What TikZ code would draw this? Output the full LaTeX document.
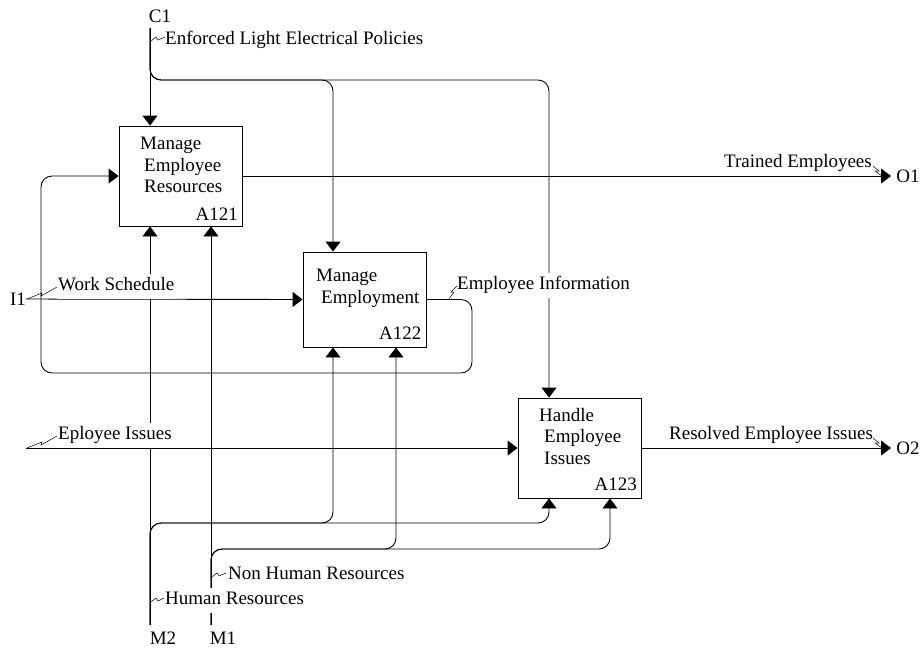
\documentclass[tikz,border=0pt]{standalone}
\usepackage{fontspec}
\setmainfont{Liberation Serif}
\usetikzlibrary{arrows.meta}
\begin{document}
\begin{tikzpicture}[x=1pt,y=-1pt,
  flow/.style={line width=0.9pt,-{Triangle[width=15pt,length=10pt]}},
  pipe/.style={line width=0.9pt,rounded corners=11pt},
  activity/.style={draw,line width=0.9pt,rectangle,minimum width=123pt,inner sep=0pt},
  boxtitle/.style={anchor=north west,align=left,inner sep=0pt,font=\fontsize{19}{21.5}\selectfont},
  boxnum/.style={anchor=base east,inner sep=0pt,font=\fontsize{19}{22}\selectfont},
  endtag/.style={inner sep=0pt,font=\fontsize{19}{22}\selectfont},
  arrowtext/.style={anchor=west,fill=white,inner xsep=1pt,inner ysep=4pt,text height=13pt,text depth=4pt,font=\fontsize{19}{22}\selectfont},
  squig/.style={line width=0.5pt}]
\useasboundingbox (0,0) rectangle (923,649);

% activity boxes
\node[activity,minimum height=100pt] (A121) at (180.5,176) {};
\node[activity,minimum height=95pt]  (A122) at (364.5,299.5) {};
\node[activity,minimum height=100pt] (A123) at (579.5,448) {};

\node[boxtitle] (t121) at (140,137) {Manage\\\hspace*{4pt}Employee\\\hspace*{4pt}Resources};
\node[boxnum] (n121) at (238,220) {A121};
\node[boxtitle] (t122) at (316,269) {Manage\\\hspace*{5pt}Employment};
\node[boxnum] (n122) at (421.5,339) {A122};
\node[boxtitle] (t123) at (539,408) {Handle\\\hspace*{5pt}Employee\\\hspace*{5pt}Issues};
\node[boxnum] (n123) at (637,490) {A123};

% boundary tags
\node[endtag] (C1) at (160,16) {C1};
\node[endtag] (I1) at (18,299) {I1};
\node[endtag] (O1) at (908,176) {O1};
\node[endtag] (O2) at (908,448) {O2};
\node[endtag] (M2) at (163,638) {M2};
\node[endtag] (M1) at (223,638) {M1};

% free ends of the boundary arrows
\coordinate (c1) at (150,28);
\coordinate (i1) at (26,299);
\coordinate (i2) at (26,448);
\coordinate (o1) at (891,176);
\coordinate (o2) at (891,448);
\coordinate (m2) at (150,625);
\coordinate (m1) at (211,625);

% control
\draw[flow] (c1) -- (c1 |- A121.north);
\draw[flow,pipe] (c1) -- (150,80) -- (333,80) -- (333,80 |- A122.north);
\draw[flow,pipe] (c1) -- (150,80) -- (549,80) -- (549,80 |- A123.north);

% inputs
\draw[flow] (i1) -- (A122.west);
\draw[flow] (i2) -- (A123.west);

% outputs
\draw[flow] (A121.east) -- (o1);
\draw[flow] (A123.east) -- (o2);

% feedback of employee information
\draw[flow,pipe] (A122.east) -- (472,299.5) -- (472,373) -- (41,373) -- (41,176) -- (A121.west);

% mechanisms
\draw[flow] (m2) -- (m2 |- A121.south);
\draw[flow,pipe] (m2) -- (150,523) -- (333,523) -- (333,523 |- A122.south);
\draw[flow,pipe] (m2) -- (150,523) -- (549,523) -- (549,523 |- A123.south);
\draw[flow] (m1) -- (m1 |- A121.south);
\draw[flow,pipe] (m1) -- (211,549) -- (396,549) -- (396,549 |- A122.south);
\draw[flow,pipe] (m1) -- (211,549) -- (610,549) -- (610,549 |- A123.south);

% arrow labels
\node[arrowtext] (l1) at (164,40) {Enforced Light Electrical Policies};
\node[arrowtext] (l2) at (723,163) {Trained Employees};
\node[arrowtext] (l3) at (456,285) {Employee Information};
\node[arrowtext] (l4) at (57,286) {Work Schedule};
\node[arrowtext] (l5) at (57,435) {Eployee Issues};
\node[arrowtext] (l6) at (668,435) {Resolved Employee Issues};
\node[arrowtext] (l7) at (227,575) {Non Human Resources};
\node[arrowtext] (l8) at (164,600) {Human Resources};

% squiggles tying labels to their arrows
\draw[squig] (151,41) -- (156,37) -- (158,40) -- (165,37);
\draw[squig] (873,166) -- (879,171) -- (875,171) -- (882,176);
\draw[squig] (449,299) -- (454,292) -- (451,292) -- (457,286);
\draw[squig] (27,299) -- (42,293) -- (41,296) -- (57,287);
\draw[squig] (27,448) -- (42,442) -- (41,445) -- (57,436);
\draw[squig] (873,438) -- (879,443) -- (875,443) -- (882,448);
\draw[squig] (212,577) -- (217,573) -- (219,576) -- (226,573);
\draw[squig] (151,602) -- (156,598) -- (158,601) -- (164,598);
\end{tikzpicture}
\end{document}
